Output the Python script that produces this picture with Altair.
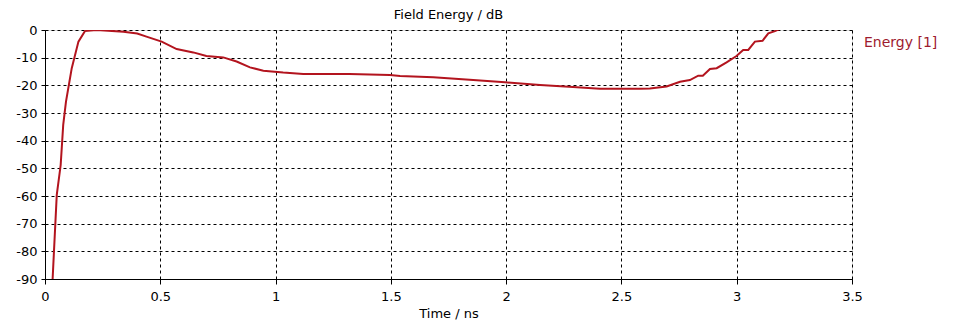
import altair as alt
import pandas as pd

time_ns = [0.033, 0.051, 0.068, 0.079, 0.091, 0.116, 0.145, 0.173, 0.224, 0.34, 0.40, 0.44,
           0.506, 0.571, 0.643, 0.70, 0.773, 0.831, 0.889, 0.947, 1.033, 1.12, 1.32, 1.496,
           1.54, 1.684, 1.857, 1.995, 2.147, 2.29, 2.407, 2.58, 2.623, 2.696, 2.754, 2.797,
           2.833, 2.853, 2.884, 2.913, 2.956, 2.999, 3.028, 3.05, 3.079, 3.112, 3.137, 3.166, 3.19]
energy_db = [-90.0, -59.6, -48.8, -34.3, -25.9, -13.8, -4.2, -0.4, 0.0, -0.6, -1.3, -2.4,
             -4.2, -6.9, -8.1, -9.4, -9.9, -11.4, -13.5, -14.7, -15.4, -15.9, -15.9, -16.3,
             -16.6, -17.1, -18.1, -18.9, -19.9, -20.6, -21.2, -21.2, -21.1, -20.4, -18.7, -18.1,
             -16.5, -16.5, -14.1, -13.8, -11.7, -9.4, -7.2, -7.2, -4.2, -3.9, -1.2, -0.4, 0.5]
series = ["Energy [1]"] * len(time_ns)

x_ticks = [0, 0.5, 1, 1.5, 2, 2.5, 3, 3.5]
y_ticks = [0, -10, -20, -30, -40, -50, -60, -70, -80, -90]

df = pd.DataFrame({"t": time_ns, "e": energy_db, "s": series})

FONT = "DejaVu Sans"
RED = "#b3141e"

line = alt.Chart(df).mark_line(color=RED, strokeWidth=2, clip=True).encode(
    x=alt.X("t:Q", scale=alt.Scale(domain=[0, 3.5], nice=False),
            axis=alt.Axis(title="Time / ns", values=x_ticks, labelExpr="'' + datum.value",
                          labelFlush=False,
                          grid=True, gridDash=[3, 3], gridColor="#000000", gridOpacity=1,
                          domainColor="#000000", tickColor="#000000", tickSize=5,
                          labelFont=FONT, labelFontSize=13, labelColor="#000000",
                          labelPadding=6, titleFont=FONT, titleFontSize=13,
                          titleFontWeight="normal", titleColor="#000000", titlePadding=4)),
    y=alt.Y("e:Q", scale=alt.Scale(domain=[-90, 0], nice=False),
            axis=alt.Axis(title=None, values=y_ticks, labelExpr="'' + datum.value",
                          labelFlush=False,
                          grid=True, gridDash=[3, 3], gridColor="#000000", gridOpacity=1,
                          domainColor="#000000", tickColor="#000000", tickSize=4,
                          labelFont=FONT, labelFontSize=13, labelColor="#000000",
                          labelPadding=4)),
    color=alt.Color("s:N", scale=alt.Scale(range=[RED]),
                    legend=alt.Legend(title=None, orient="none", legendX=801, legendY=6,
                                      symbolOpacity=0, symbolSize=0, labelColor="#9e1b2e",
                                      labelFont=FONT, labelFontSize=14)),
)

chart = line.properties(
    width=807, height=249,
    title=alt.TitleParams("Field Energy / dB", font=FONT, fontSize=13, fontWeight="normal",
                          color="#000000", anchor="middle", offset=2),
    autosize=alt.AutoSizeParams(type="none"),
    padding={"left": 37, "top": 22, "right": 110, "bottom": 42},
).configure_view(stroke="#000000", strokeWidth=1).configure(background="white")

chart.save("out.html", embed_options={"renderer": "svg", "actions": False})
